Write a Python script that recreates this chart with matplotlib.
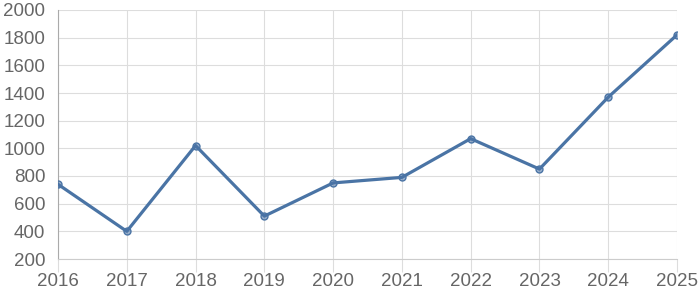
import matplotlib.pyplot as plt

years = [2016, 2017, 2018, 2019, 2020, 2021, 2022, 2023, 2024, 2025]
values = [740, 400, 1020, 510, 750, 790, 1070, 850, 1370, 1820]
y_ticks = [200, 400, 600, 800, 1000, 1200, 1400, 1600, 1800, 2000]

LINE = "#4a74a5"
GRID = "#dddddd"
TEXT = "#666666"

plt.rcParams["font.family"] = ["Liberation Sans", "DejaVu Sans"]

fig = plt.figure(figsize=(7, 3), dpi=100)
ax = fig.add_axes([58 / 700, 41 / 300, 619 / 700, 249 / 300])

ax.plot(years, values, color=LINE, linewidth=2.3, zorder=3,
        marker="o", markersize=5, markerfacecolor=(0.29, 0.45, 0.65, 0.55),
        markeredgecolor=LINE, markeredgewidth=1)

ax.set_xlim(years[0], years[-1])
ax.set_ylim(200, 2000)
ax.set_xticks(years)
ax.set_yticks(y_ticks)
ax.tick_params(axis="both", labelsize=13.5, colors=TEXT)
ax.tick_params(axis="x", length=9, color=GRID, pad=1)
ax.tick_params(axis="y", length=0, pad=9)
ax.grid(color=GRID, linewidth=0.8)

for side in ["top", "right"]:
    ax.spines[side].set_visible(False)
ax.spines["left"].set_color("#aaaaaa")
ax.spines["bottom"].set_color("#cccccc")

fig.savefig("out.png", dpi=100, facecolor="white")
